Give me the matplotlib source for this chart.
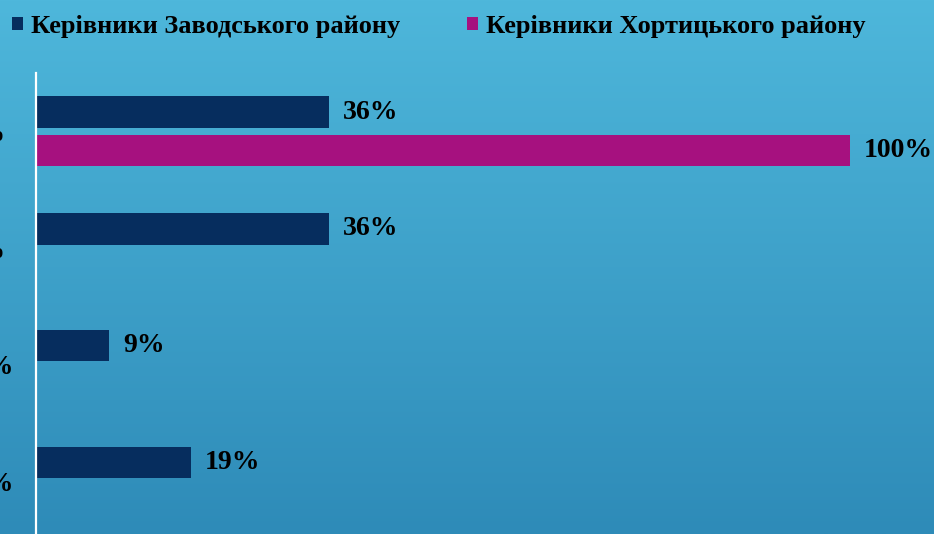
import numpy as np
import matplotlib
matplotlib.use("Agg")
import matplotlib.pyplot as plt
from matplotlib.patches import Patch
import matplotlib.transforms as mtransforms

plt.rcParams["font.family"] = ["Liberation Serif", "DejaVu Serif"]
plt.rcParams["font.weight"] = "bold"

SERIES = ["Керівники Заводського району", "Керівники Хортицького району"]
COLORS = ["#062D5E", "#A6117F"]
CATEGORIES = ["100%", "100%", "0%", "0%"]   # only the trailing "%" is visible in the reference
ZAVODSKYI = [36, 36, 9, 19]
KHORTYTSKYI = [100, 0, 0, 0]

W, H = 934, 534
fig = plt.figure(figsize=(W / 100, H / 100), dpi=100)

# background gradient
bg = fig.add_axes([0, 0, 1, 1], zorder=-10)
grad = np.linspace(0, 1, 256)[:, None]
top = np.array([0x4E, 0xB7, 0xDB]) / 255
bot = np.array([0x2E, 0x8B, 0xB8]) / 255
img = top[None, None, :] * (1 - grad[..., None]) + bot[None, None, :] * grad[..., None]
bg.imshow(img, aspect="auto", extent=[0, 1, 0, 1])
bg.axis("off")

ax = fig.add_axes([36 / W, -6 / H, 814 / W, 467 / H])
ax.patch.set_alpha(0)

y = np.arange(len(CATEGORIES))
h = 0.27
off = 0.165
b1 = ax.barh(y - off, ZAVODSKYI, height=h, color=COLORS[0], label=SERIES[0])
b2 = ax.barh(y + off, KHORTYTSKYI, height=h, color=COLORS[1], label=SERIES[1])

for bars, vals in ((b1, ZAVODSKYI), (b2, KHORTYTSKYI)):
    for bar, v in zip(bars, vals):
        if v == 0:
            continue
        ax.annotate(f"{v}%", (v, bar.get_y() + bar.get_height() / 2),
                    xytext=(10, 0), textcoords="offset points",
                    ha="left", va="center", fontsize=20, fontweight="bold", color="black")

ax.set_xlim(0, 100)
ax.set_ylim(len(CATEGORIES) - 0.5, -0.5)
ax.set_xticks([])
ax.set_yticks(y)
ax.set_yticklabels(CATEGORIES, fontsize=20, fontweight="bold")
ax.tick_params(axis="y", length=0, pad=16)
# first two labels sit a bit further left (cut off at the image edge)
for i, lab in enumerate(ax.get_yticklabels()):
    if i < 2:
        lab.set_transform(lab.get_transform() +
                          mtransforms.ScaledTranslation(-6 / 72, 0, fig.dpi_scale_trans))
for s in ("top", "right", "bottom"):
    ax.spines[s].set_visible(False)
ax.spines["left"].set_color("white")
ax.spines["left"].set_linewidth(1.6)

handles = [Patch(facecolor=c, label=s) for c, s in zip(COLORS, SERIES)]
fig.legend(handles=handles, loc="upper left", bbox_to_anchor=(0.0, 0.994), ncol=2,
           frameon=False, fontsize=19, handlelength=0.42, handleheight=0.42,
           handletextpad=0.3, columnspacing=2.55, borderaxespad=0.05)

plt.savefig("out.png", dpi=100)
